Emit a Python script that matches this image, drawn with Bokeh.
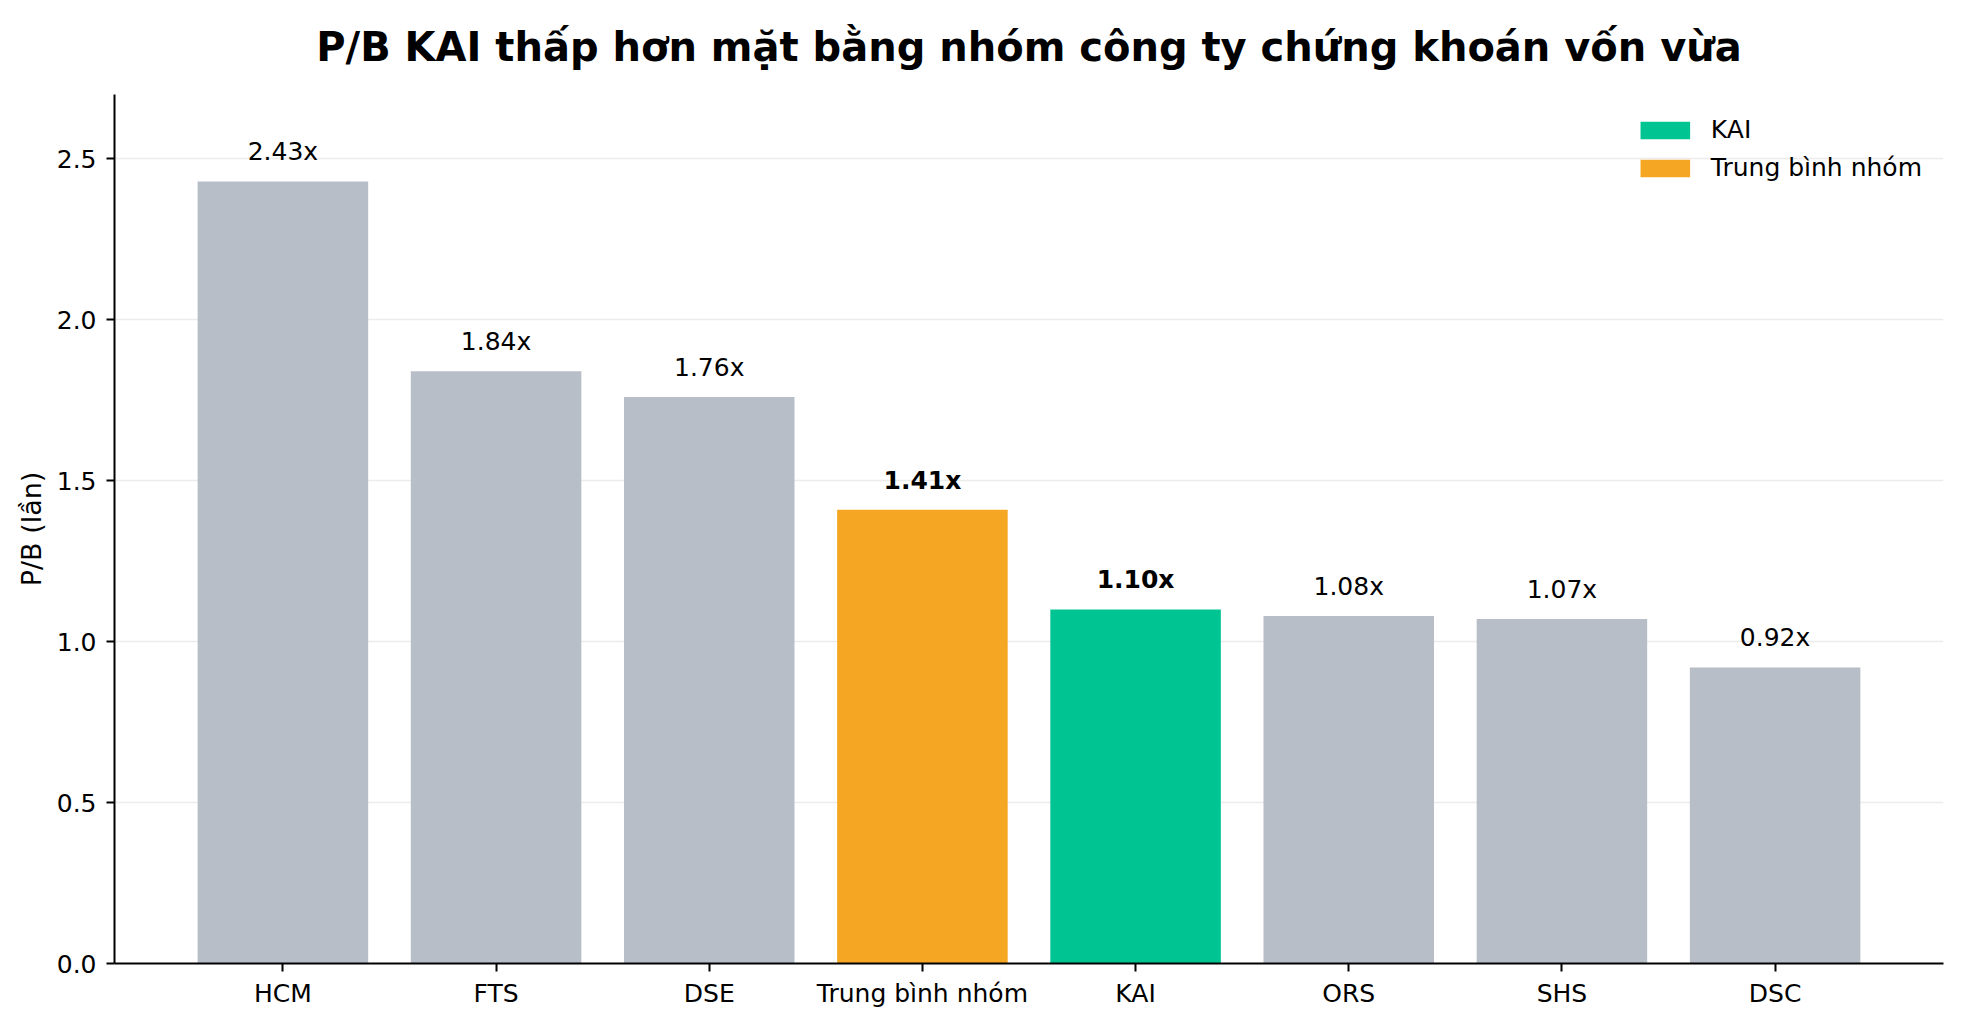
from bokeh.plotting import figure
from bokeh.models import (ColumnDataSource, FactorRange, Range1d, FixedTicker,
                          PrintfTickFormatter, LabelSet, Legend, LegendItem)
from bokeh.core.properties import field, value
from bokeh.embed import file_html
from bokeh.resources import INLINE

# P/B by company (times)
companies = ["HCM", "FTS", "DSE", "Trung bình nhóm", "KAI", "ORS", "SHS", "DSC"]
pb_values = [2.43, 1.84, 1.76, 1.41, 1.10, 1.08, 1.07, 0.92]
bar_colors = ["#B8BEC8", "#B8BEC8", "#B8BEC8", "#F5A623", "#00C593",
              "#B8BEC8", "#B8BEC8", "#B8BEC8"]
label_styles = ["normal", "normal", "normal", "bold", "bold",
                "normal", "normal", "normal"]
y_ticks = [0.0, 0.5, 1.0, 1.5, 2.0, 2.5]

FONT = "DejaVu Sans"

source = ColumnDataSource(data=dict(
    company=companies,
    pb=pb_values,
    color=bar_colors,
    style=label_styles,
    label=["%.2fx" % v for v in pb_values],
))

p = figure(width=1946, height=1010,
           x_range=FactorRange(factors=companies, range_padding=0.29,
                               range_padding_units="absolute"),
           y_range=Range1d(0, 2.7),
           output_backend="svg", toolbar_location=None, tools="",
           title="P/B KAI thấp hơn mặt bằng nhóm công ty chứng khoán vốn vừa",
           min_border_left=114, min_border_right=3,
           min_border_top=94, min_border_bottom=45)

p.outline_line_color = None
p.background_fill_color = "white"

# Title: fills the top strip so it sits near the top edge
p.title.align = "center"
p.title.vertical_align = "top"
p.title.text_font = FONT
p.title.text_font_size = "40px"
p.title.text_font_style = "bold"
p.title.text_color = "black"
p.title.standoff = 45

# Bars
bars = p.vbar(x="company", top="pb", width=0.8, source=source,
              fill_color="color", line_color=None)

# Value labels above bars
labels = LabelSet(x="company", y="pb", text="label", source=source,
                  y_offset=21, text_align="center", text_baseline="alphabetic",
                  text_font=value(FONT), text_font_size=value("25px"),
                  text_font_style=field("style"), text_color="black")
p.add_layout(labels)

# Axes
for ax in (p.xaxis, p.yaxis):
    ax.axis_line_color = "black"
    ax.axis_line_width = 2
    ax.major_tick_line_color = "black"
    ax.major_tick_line_width = 2
    ax.major_tick_out = 8
    ax.major_tick_in = 0
    ax.minor_tick_line_color = None
    ax.major_label_text_font = FONT
    ax.major_label_text_font_size = "25px"
    ax.major_label_text_color = "black"

p.xaxis.major_label_standoff = 7
p.yaxis.major_label_standoff = 10
p.yaxis.ticker = FixedTicker(ticks=y_ticks)
p.yaxis.formatter = PrintfTickFormatter(format="%.1f")
p.yaxis.axis_label = "P/B (lần)"
p.yaxis.axis_label_text_font = FONT
p.yaxis.axis_label_text_font_size = "27px"
p.yaxis.axis_label_text_font_style = "normal"
p.yaxis.axis_label_text_color = "black"
p.yaxis.axis_label_standoff = 7

# Grid
p.xgrid.grid_line_color = None
p.ygrid.ticker = FixedTicker(ticks=y_ticks)
p.ygrid.grid_line_color = "#ECECEC"
p.ygrid.grid_line_width = 1.5

# Legend
legend = Legend(items=[
    LegendItem(label="KAI", renderers=[bars], index=4),
    LegendItem(label="Trung bình nhóm", renderers=[bars], index=3),
], location="top_right")
legend.label_text_font = FONT
legend.label_text_font_size = "25px"
legend.label_text_color = "black"
legend.glyph_width = 62
legend.glyph_height = 22
legend.label_standoff = 15
legend.label_height = 22
legend.spacing = 9
legend.border_line_color = None
legend.background_fill_alpha = 0
legend.margin = 21
legend.padding = 12
p.add_layout(legend)

open("out.html", "w").write(file_html(p, INLINE))
